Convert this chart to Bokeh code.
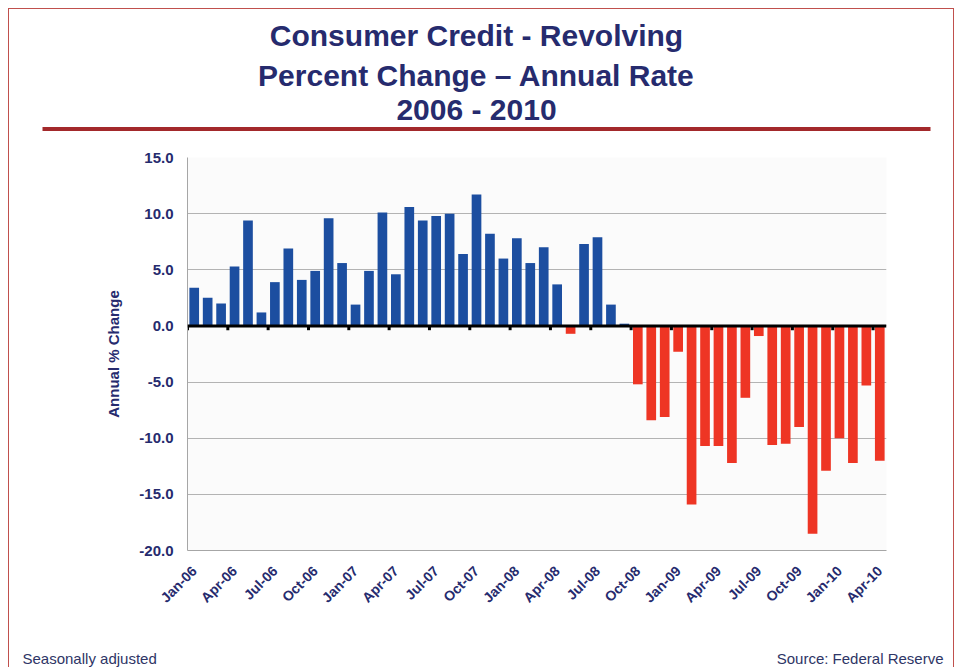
import math
from bokeh.plotting import figure
from bokeh.layouts import column
from bokeh.models import (ColumnDataSource, FixedTicker, NumeralTickFormatter, Span,
                          Label, BoxAnnotation, Range1d)
from bokeh.embed import file_html
from bokeh.resources import INLINE

# ---------------- data ----------------
months = ["Jan-06", "Feb-06", "Mar-06", "Apr-06", "May-06", "Jun-06",
          "Jul-06", "Aug-06", "Sep-06", "Oct-06", "Nov-06", "Dec-06",
          "Jan-07", "Feb-07", "Mar-07", "Apr-07", "May-07", "Jun-07",
          "Jul-07", "Aug-07", "Sep-07", "Oct-07", "Nov-07", "Dec-07",
          "Jan-08", "Feb-08", "Mar-08", "Apr-08", "May-08", "Jun-08",
          "Jul-08", "Aug-08", "Sep-08", "Oct-08", "Nov-08", "Dec-08",
          "Jan-09", "Feb-09", "Mar-09", "Apr-09", "May-09", "Jun-09",
          "Jul-09", "Aug-09", "Sep-09", "Oct-09", "Nov-09", "Dec-09",
          "Jan-10", "Feb-10", "Mar-10", "Apr-10"]

rates = [3.4, 2.5, 2.0, 5.3, 9.4, 1.2, 3.9, 6.9, 4.1, 4.9, 9.6, 5.6,
         1.9, 4.9, 10.1, 4.6, 10.6, 9.4, 9.8, 10.0, 6.4, 11.7, 8.2, 6.0,
         7.8, 5.6, 7.0, 3.7, -0.7, 7.3, 7.9, 1.9, 0.2, -5.2, -8.4, -8.1,
         -2.3, -15.9, -10.7, -10.7, -12.2, -6.4, -0.9, -10.6, -10.5, -9.0,
         -18.5, -12.9, -10.0, -12.2, -5.3, -12.0]

tick_labels = ["Jan-06", "Apr-06", "Jul-06", "Oct-06", "Jan-07", "Apr-07",
               "Jul-07", "Oct-07", "Jan-08", "Apr-08", "Jul-08", "Oct-08",
               "Jan-09", "Apr-09", "Jul-09", "Oct-09", "Jan-10", "Apr-10"]

y_ticks = [-20, -15, -10, -5, 0, 5, 10, 15]

title_lines = ["Consumer Credit - Revolving",
               "Percent Change \u2013 Annual Rate",
               "2006 - 2010"]
footer_left = "Seasonally adjusted"
footer_right = "Source: Federal Reserve"

# ---------------- style ----------------
BLUE = "#1c4ea0"
RED = "#ee3524"
NAVY = "#262b6e"
DARKRED = "#a3292b"
BORDER = "#c0504d"
FONT = "Liberation Sans"

W = 944
HEAD_H, MAIN_H, FOOT_H = 130, 491, 37
TITLE_FS = 30
FOOT_FS = 15


def bare_fig(h):
    f = figure(width=W, height=h, output_backend="svg", toolbar_location=None,
               x_range=Range1d(0, W), y_range=Range1d(h, 0),
               x_axis_location=None, y_axis_location=None,
               min_border=0, min_border_left=0, min_border_right=0,
               min_border_top=0, min_border_bottom=0, frame_align=False,
               outline_line_color=None, background_fill_color="white",
               border_fill_color="white")
    f.xgrid.visible = False
    f.ygrid.visible = False
    return f


# ---------------- header (titles + rule) ----------------
head = bare_fig(HEAD_H)
for line, base in zip(title_lines, [36, 76, 110]):
    head.add_layout(Label(x=467, y=base - 0.35 * TITLE_FS, text=line,
                          text_align="center", text_baseline="middle",
                          text_font=FONT, text_font_style="bold",
                          text_font_size=f"{TITLE_FS}px", text_color=NAVY))
head.add_layout(BoxAnnotation(left=33, right=921, top=117.5, bottom=121.5,
                              fill_color=DARKRED, fill_alpha=1.0, line_color=None))

# ---------------- main chart ----------------
x_idx = list(range(len(months)))
colors = [BLUE if r >= 0 else RED for r in rates]
src = ColumnDataSource(dict(x=x_idx, rate=rates, color=colors))

tick_pos = [months.index(m) for m in tick_labels]
boundaries = [t - 0.5 for t in tick_pos]

p = figure(width=W, height=MAIN_H, output_backend="svg", toolbar_location=None,
           x_range=Range1d(-0.5, len(months) - 0.5), y_range=Range1d(-20, 15),
           min_border_left=178, min_border_right=67, min_border_top=18,
           min_border_bottom=80, background_fill_color="#fbfbfb",
           border_fill_color="white", outline_line_color=None)

p.vbar(x="x", top="rate", width=0.72, fill_color="color", line_color=None,
       source=src)

p.add_layout(Span(location=0, dimension="width", line_color="black", line_width=3))
p.segment(x0=boundaries, y0=[0] * len(boundaries), x1=boundaries,
          y1=[-0.38] * len(boundaries), line_color="black", line_width=3)

p.xaxis.ticker = FixedTicker(ticks=tick_pos, minor_ticks=[])
p.xaxis.major_label_overrides = {t: l for t, l in zip(tick_pos, tick_labels)}
p.xaxis.major_label_orientation = math.pi / 4
p.xaxis.major_tick_line_color = None
p.xaxis.minor_tick_line_color = None
p.xaxis.axis_line_color = "#a6a6a6"
p.xaxis.major_label_standoff = 12
p.xaxis.major_label_text_font = FONT
p.xaxis.major_label_text_font_style = "bold"
p.xaxis.major_label_text_font_size = "14px"
p.xaxis.major_label_text_color = NAVY

p.yaxis.ticker = FixedTicker(ticks=y_ticks, minor_ticks=[])
p.yaxis.formatter = NumeralTickFormatter(format="0.0")
p.yaxis.major_tick_line_color = None
p.yaxis.minor_tick_line_color = None
p.yaxis.axis_line_color = "#a6a6a6"
p.yaxis.major_label_standoff = 8
p.yaxis.major_label_text_font = FONT
p.yaxis.major_label_text_font_style = "bold"
p.yaxis.major_label_text_font_size = "15px"
p.yaxis.major_label_text_color = NAVY
p.yaxis.axis_label = "Annual % Change"
p.yaxis.axis_label_standoff = 14
p.yaxis.axis_label_text_font = FONT
p.yaxis.axis_label_text_font_style = "bold"
p.yaxis.axis_label_text_font_size = "15px"
p.yaxis.axis_label_text_color = NAVY

p.xgrid.grid_line_color = None
p.ygrid.ticker = FixedTicker(ticks=y_ticks, minor_ticks=[])
p.ygrid.grid_line_color = "#b3b3b3"

# ---------------- footer ----------------
foot = bare_fig(FOOT_H)
for txt, xx, al in [(footer_left, 13, "left"), (footer_right, 934, "right")]:
    foot.add_layout(Label(x=xx, y=33 - 0.35 * FOOT_FS, text=txt, text_align=al,
                          text_baseline="middle", text_font=FONT,
                          text_font_size=f"{FOOT_FS}px", text_color="#2e3566"))

layout = column(head, p, foot, spacing=0, margin=(8, 0, 0, 8),
                styles={"border-top": "1px solid " + BORDER,
                        "border-left": "1px solid " + BORDER,
                        "border-right": "1px solid " + BORDER})

open("out.html", "w").write(file_html(layout, INLINE))
